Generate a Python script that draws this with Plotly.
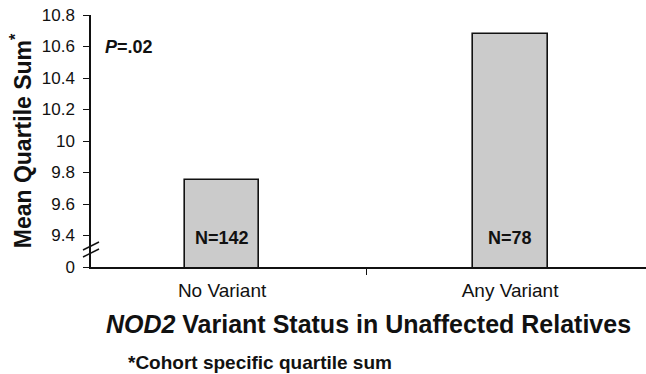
import plotly.graph_objects as go

# Mean quartile sum by NOD2 variant status
categories = ["No Variant", "Any Variant"]
mean_quartile_sum = [9.755, 10.68]
n_labels = ["N=142", "N=78"]

# y axis is broken: the lowest tick stands in for 0
tick_vals = [9.2, 9.4, 9.6, 9.8, 10.0, 10.2, 10.4, 10.6, 10.8]
tick_text = ["0", "9.4", "9.6", "9.8", "10", "10.2", "10.4", "10.6", "10.8"]

FONT = "Arial, Liberation Sans, sans-serif"
INK = "#111111"

# plot-area geometry in pixels
W, H = 646, 374
L, T, B = 91, 15, 107
PW, PH = W - L, H - T - B

fig = go.Figure()
fig.add_trace(go.Bar(
    x=categories,
    y=mean_quartile_sum,
    width=0.26,
    marker=dict(color="#cbcbcb", line=dict(color=INK, width=1.6)),
    showlegend=False,
    hoverinfo="skip",
))

# sample-size labels near the bottom of each bar
for cat, lab in zip(categories, n_labels):
    fig.add_annotation(
        x=cat, y=9.385, xref="x", yref="y",
        text=f"<b>{lab}</b>", showarrow=False,
        font=dict(family=FONT, size=18, color=INK),
    )

fig.add_annotation(
    x=(103 - L) / PW, y=10.6, xref="paper", yref="y", xanchor="left",
    text="<b><i>P</i>=.02</b>", showarrow=False,
    font=dict(family=FONT, size=18, color=INK),
)

# axis break marks (two short slashes across the y axis)
for yc in (246, 253):
    fig.add_shape(
        type="line", xref="paper", yref="paper",
        x0=(83 - L) / PW, x1=(99 - L) / PW,
        y0=(T + PH - (yc + 4)) / PH, y1=(T + PH - (yc - 4)) / PH,
        line=dict(color=INK, width=1.4),
    )

# footnote
fig.add_annotation(
    x=(126 - L) / PW, y=-(362 - (T + PH)) / PH, xref="paper", yref="paper",
    xanchor="left", yanchor="middle",
    text="<b>*Cohort specific quartile sum</b>", showarrow=False,
    font=dict(family=FONT, size=19, color=INK),
)

fig.update_layout(
    width=W, height=H,
    margin=dict(l=L, r=0, t=T, b=B),
    paper_bgcolor="white", plot_bgcolor="white",
    font=dict(family=FONT, color=INK),
    bargap=0,
    xaxis=dict(
        type="category",
        range=[-0.455, 1.472],
        tickson="boundaries",
        ticks="outside", ticklen=6, tickcolor=INK,
        ticklabelstandoff=5,
        showline=True, linecolor=INK, linewidth=1.5,
        showgrid=False,
        tickfont=dict(family=FONT, size=19, color=INK),
        title=dict(
            text="<b><i>NOD2</i> Variant Status in Unaffected Relatives</b>",
            font=dict(family=FONT, size=25, color=INK),
            standoff=16,
        ),
    ),
    yaxis=dict(
        range=[9.2, 10.8],
        tickvals=tick_vals, ticktext=tick_text,
        ticks="outside", ticklen=6, tickcolor=INK,
        ticklabelstandoff=5,
        showline=True, linecolor=INK, linewidth=1.5,
        showgrid=False, zeroline=False,
        tickfont=dict(family=FONT, size=17, color=INK),
        title=dict(
            text="<b>Mean Quartile Sum<sup>*</sup></b>",
            font=dict(family=FONT, size=23, color=INK),
            standoff=4,
        ),
    ),
)

fig.write_html("out.html")
